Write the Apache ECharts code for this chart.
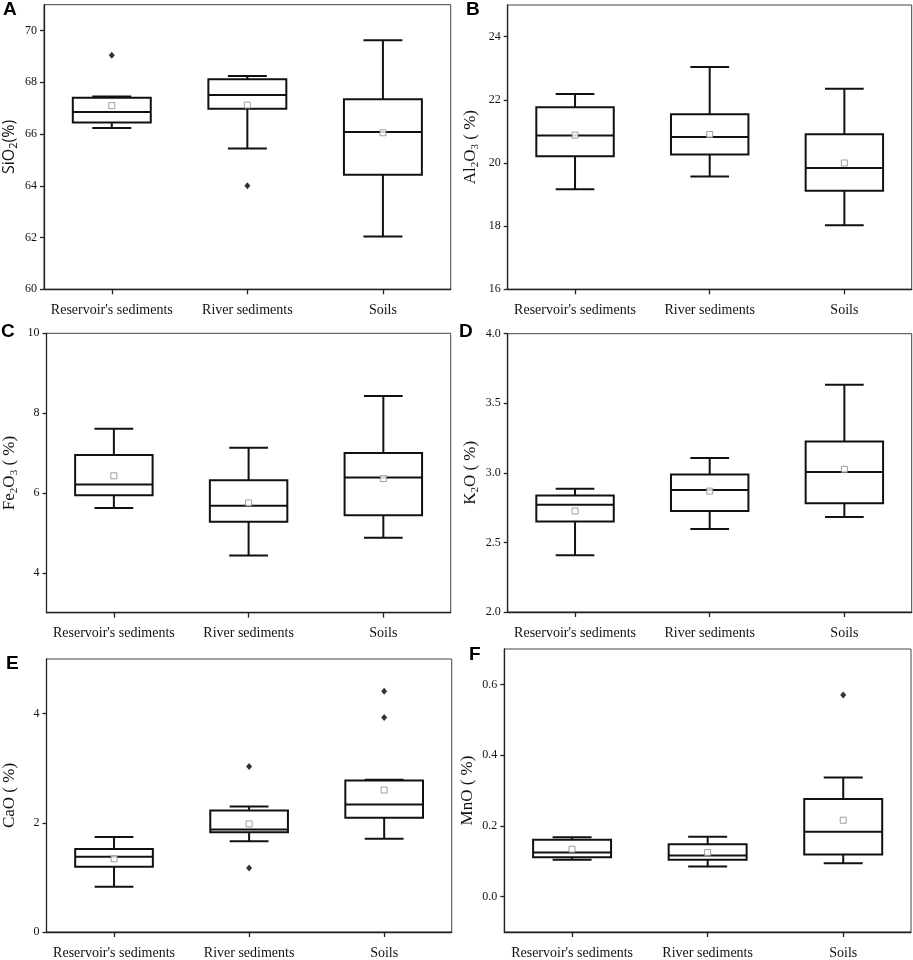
<!DOCTYPE html>
<html>
<head>
<meta charset="utf-8">
<script src="https://cdn.jsdelivr.net/npm/echarts@6/dist/echarts.min.js"></script>
<style>
html,body{margin:0;padding:0;background:#fff;}
#c{width:913px;height:960px;}
</style>
</head>
<body>
<div id="c"></div>
<script>
// ---------- data ----------
const categories = ["Reservoir's sediments", "River sediments", "Soils"];

// box arrays: [lower whisker, Q1, median, Q3, upper whisker] per category
const sio2Box = [[66.23, 66.45, 66.85, 67.40, 67.45], [65.44, 66.98, 67.51, 68.12, 68.24], [62.04, 64.43, 66.08, 67.35, 69.63]];
const sio2Mean = [67.10, 67.12, 66.05];
const sio2Outliers = [[0, 69.05], [1, 64.00]];
const sio2Ticks = [60, 62, 64, 66, 68, 70];

const al2o3Box = [[19.17, 20.21, 20.87, 21.76, 22.18], [19.57, 20.27, 20.82, 21.54, 23.04], [18.03, 19.12, 19.84, 20.91, 22.35]];
const al2o3Mean = [20.88, 20.90, 20.00];
const al2o3Outliers = [];
const al2o3Ticks = [16, 18, 20, 22, 24];

const fe2o3Box = [[5.62, 5.94, 6.21, 6.95, 7.61], [4.43, 5.28, 5.68, 6.32, 7.13], [4.88, 5.44, 6.39, 7.00, 8.43]];
const fe2o3Mean = [6.43, 5.75, 6.36];
const fe2o3Outliers = [];
const fe2o3Ticks = [4, 6, 8, 10];

const k2oBox = [[2.407, 2.651, 2.771, 2.838, 2.886], [2.596, 2.726, 2.877, 2.989, 3.107], [2.683, 2.781, 3.006, 3.226, 3.634]];
const k2oMean = [2.726, 2.869, 3.025];
const k2oOutliers = [];
const k2oTicks = [2.0, 2.5, 3.0, 3.5, 4.0];

const caoBox = [[0.827, 1.195, 1.376, 1.52, 1.74], [1.66, 1.828, 1.876, 2.226, 2.30], [1.707, 2.094, 2.335, 2.775, 2.79]];
const caoMean = [1.34, 1.98, 2.60];
const caoOutliers = [[1, 3.03], [1, 1.17], [2, 4.41], [2, 3.93]];
const caoTicks = [0, 2, 4];

const mnoBox = [[0.104, 0.111, 0.1245, 0.161, 0.168], [0.085, 0.104, 0.116, 0.148, 0.169], [0.094, 0.119, 0.1835, 0.276, 0.337]];
const mnoMean = [0.134, 0.1245, 0.216];
const mnoOutliers = [[2, 0.570]];
const mnoTicks = [0.0, 0.2, 0.4, 0.6];

// ---------- layout ----------
const panels = [
  {letter: 'A', box: sio2Box, mean: sio2Mean, out: sio2Outliers, ticks: sio2Ticks, min: 60, max: 71, dec: 0,
   name: '{sn|SiO}{ss|2}{sn|(%)}', grid: {left: 43.5, top: 4.7, width: 407.2, height: 284.6}, lpos: [3, 0]},
  {letter: 'B', box: al2o3Box, mean: al2o3Mean, out: al2o3Outliers, ticks: al2o3Ticks, min: 16, max: 25, dec: 0,
   name: '{n|Al}{s|2}{n|O}{s|3}{n| ( %)}', grid: {left: 507.7, top: 5, width: 404, height: 284.3}, lpos: [466, 0]},
  {letter: 'C', box: fe2o3Box, mean: fe2o3Mean, out: fe2o3Outliers, ticks: fe2o3Ticks, min: 3, max: 10, dec: 0,
   name: '{n|Fe}{s|2}{n|O}{s|3}{n| ( %)}', grid: {left: 43.3, top: 333.3, width: 407.4, height: 279.4}, lpos: [1, 322]},
  {letter: 'D', box: k2oBox, mean: k2oMean, out: k2oOutliers, ticks: k2oTicks, min: 2, max: 4, dec: 1,
   name: '{n|K}{s|2}{n|O ( %)}', grid: {left: 507.7, top: 333.7, width: 404, height: 278.3}, lpos: [459, 322]},
  {letter: 'E', box: caoBox, mean: caoMean, out: caoOutliers, ticks: caoTicks, min: 0, max: 5, dec: 0,
   name: '{n|CaO ( %)}', grid: {left: 36.7, top: 659, width: 415, height: 276}, lpos: [6, 654]},
  {letter: 'F', box: mnoBox, mean: mnoMean, out: mnoOutliers, ticks: mnoTicks, min: -0.1, max: 0.7, dec: 1,
   name: '{n|MnO ( %)}', grid: {left: 504.3, top: 649, width: 406.7, height: 285}, lpos: [469, 645]}
];

const serif = "'Liberation Serif', 'Times New Roman', serif";
const sans = "'Open Sans', 'DejaVu Sans', sans-serif";
const richName = {
  n: {fontFamily: serif, fontSize: 17, color: '#111', lineHeight: 20, verticalAlign: 'middle'},
  s: {fontFamily: serif, fontSize: 11, color: '#111', lineHeight: 20, verticalAlign: 'bottom'},
  sn: {fontFamily: sans, fontSize: 16, color: '#111', lineHeight: 20, verticalAlign: 'middle'},
  ss: {fontFamily: sans, fontSize: 11, color: '#111', lineHeight: 20, verticalAlign: 'bottom'}
};

function renderBox(params, api) {
  const x = api.value(0);
  const lo = api.coord([x, api.value(1)]);
  const q1 = api.coord([x, api.value(2)]);
  const md = api.coord([x, api.value(3)]);
  const q3 = api.coord([x, api.value(4)]);
  const hi = api.coord([x, api.value(5)]);
  const band = api.size([1, 0])[0];
  const hw = band * 0.575 / 2;
  const cw = hw / 2;
  const cx = lo[0];
  const st = {stroke: '#111', lineWidth: 2, fill: null};
  return {
    type: 'group',
    children: [
      {type: 'line', shape: {x1: cx, y1: lo[1], x2: cx, y2: q1[1]}, style: st},
      {type: 'line', shape: {x1: cx, y1: hi[1], x2: cx, y2: q3[1]}, style: st},
      {type: 'line', shape: {x1: cx - cw, y1: lo[1], x2: cx + cw, y2: lo[1]}, style: st},
      {type: 'line', shape: {x1: cx - cw, y1: hi[1], x2: cx + cw, y2: hi[1]}, style: st},
      {type: 'rect', shape: {x: cx - hw, y: q3[1], width: 2 * hw, height: q1[1] - q3[1]},
       style: {fill: '#fff', stroke: '#111', lineWidth: 2}},
      {type: 'line', shape: {x1: cx - hw, y1: md[1], x2: cx + hw, y2: md[1]}, style: st}
    ]
  };
}

const grid = [], xAxis = [], yAxis = [], series = [], graphic = [];
panels.forEach((p, i) => {
  grid.push(Object.assign({show: true, borderColor: '#444', borderWidth: 1, backgroundColor: 'transparent', containLabel: false}, p.grid));
  xAxis.push({
    type: 'category', gridIndex: i, data: categories, boundaryGap: true,
    axisLine: {show: true, onZero: false, lineStyle: {color: '#222', width: 1.3}},
    axisTick: {show: true, alignWithLabel: true, length: 5, lineStyle: {color: '#222', width: 1.3}},
    axisLabel: {fontFamily: serif, fontSize: 14, color: '#111', margin: 14, interval: 0},
    splitLine: {show: false}
  });
  yAxis.push({
    type: 'value', gridIndex: i, min: p.min, max: p.max,
    name: p.name, nameLocation: 'middle', nameGap: p.letter === 'A' ? 25 : 27,
    nameTextStyle: {rich: richName},
    axisLine: {show: true, onZero: false, lineStyle: {color: '#222', width: 1.3}},
    axisTick: {show: true, length: 4, customValues: p.ticks, lineStyle: {color: '#222', width: 1.3}},
    axisLabel: {fontFamily: serif, fontSize: 12, color: '#111', margin: 7, customValues: p.ticks,
      formatter: v => Number(v).toFixed(p.dec)},
    splitLine: {show: false}
  });
  series.push({
    type: 'custom', xAxisIndex: i, yAxisIndex: i, renderItem: renderBox,
    encode: {x: 0, y: [1, 2, 3, 4, 5]},
    data: p.box.map((b, k) => [k].concat(b)), z: 2, silent: true
  });
  series.push({
    type: 'scatter', xAxisIndex: i, yAxisIndex: i, symbol: 'rect', symbolSize: 6,
    itemStyle: {color: '#fff', borderColor: '#888', borderWidth: 1},
    data: p.mean.map((v, k) => [k, v]), z: 5, silent: true
  });
  series.push({
    type: 'scatter', xAxisIndex: i, yAxisIndex: i, symbol: 'diamond', symbolSize: [6, 7],
    itemStyle: {color: '#000'},
    data: p.out.map(o => [o[0], o[1]]), z: 5, silent: true
  });
  graphic.push({type: 'text', left: p.lpos[0], top: p.lpos[1],
    style: {text: p.letter, font: "bold 19px 'Liberation Sans', Arial, sans-serif", fill: '#000'}});
});

const chart = echarts.init(document.getElementById('c'), null, {renderer: 'canvas'});
chart.setOption({animation: false, backgroundColor: '#fff', grid, xAxis, yAxis, series, graphic});
</script>
</body>
</html>
